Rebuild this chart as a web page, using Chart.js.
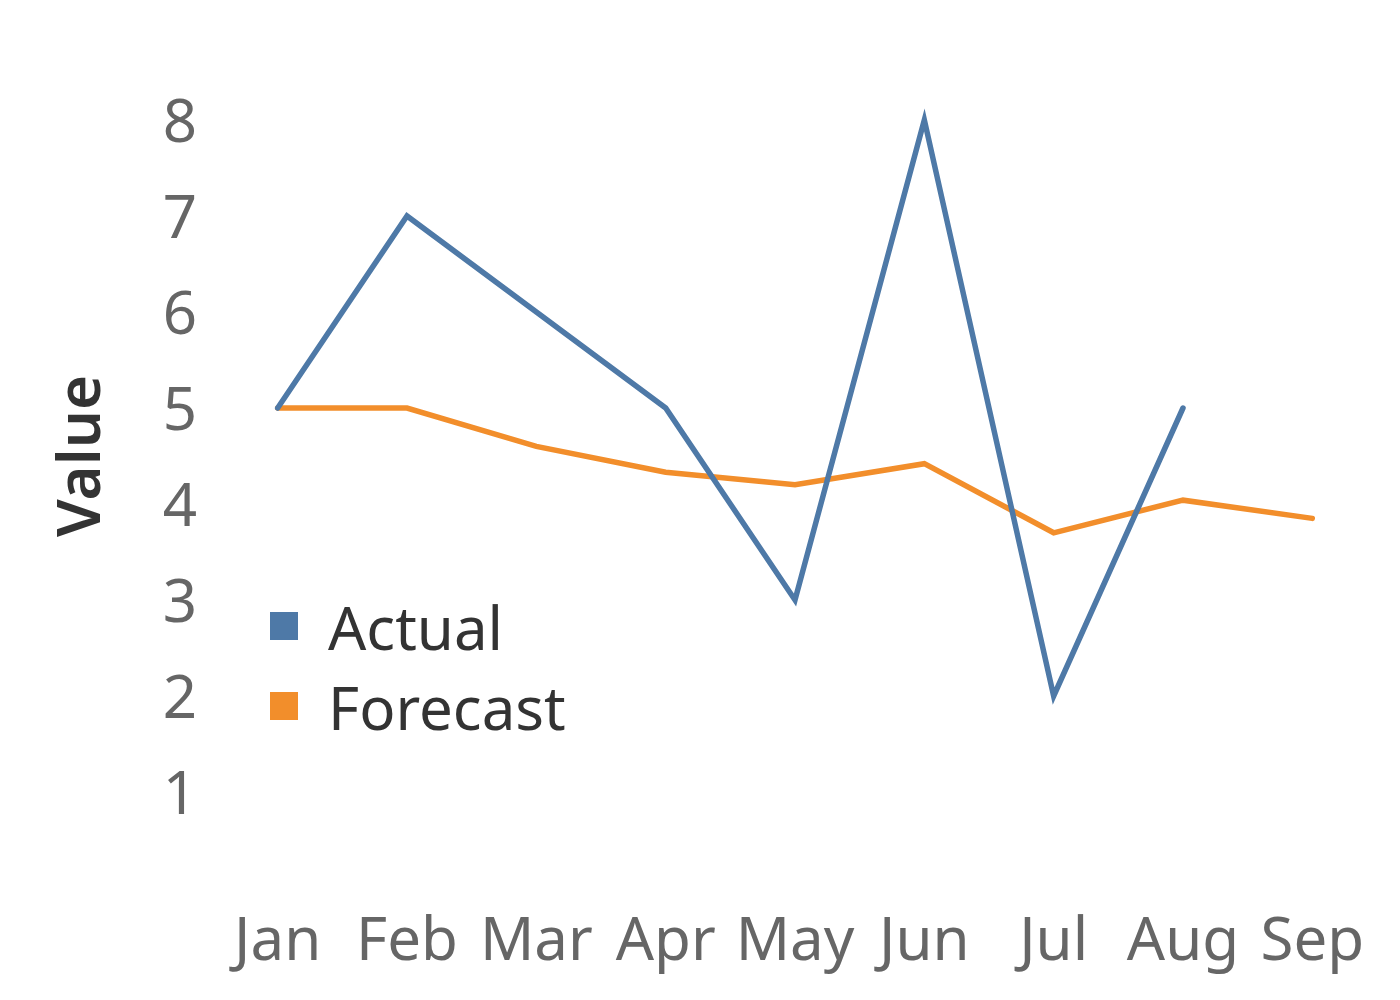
<!DOCTYPE html>
<html>
<head>
<meta charset="utf-8">
<script src="https://cdn.jsdelivr.net/npm/chart.js@4.4.0/dist/chart.umd.min.js"></script>
<style>
    html, body { margin: 0; padding: 0; background: #fff; }
    #wrap { width: 1400px; height: 1000px; }
</style>
</head>
<body>
<div id="wrap"><canvas id="chart" width="1400" height="1000"></canvas></div>
<script>
// Chart data
const months = ['Jan', 'Feb', 'Mar', 'Apr', 'May', 'Jun', 'Jul', 'Aug', 'Sep'];
const actualValues = [5, 7, 6, 5, 3, 8, 2, 5, null];
const forecastValues = [5, 5, 4.6, 4.33, 4.2, 4.42, 3.7, 4.04, 3.85];
const yTicks = [1, 2, 3, 4, 5, 6, 7, 8];

const FONT = '"Noto Sans", "Open Sans", sans-serif';

// Legend drawn inside the plot, lower left
const insideLegend = {
    id: 'insideLegend',
    afterDraw(chart) {
        const ctx = chart.ctx;
        ctx.save();
        ctx.font = '60px ' + FONT;
        ctx.textBaseline = 'alphabetic';
        ctx.textAlign = 'left';
        chart.data.datasets.forEach((ds, i) => {
            const top = 612 + i * 80;
            ctx.fillStyle = ds.borderColor;
            ctx.fillRect(270, top, 28, 28);
            ctx.fillStyle = '#333333';
            ctx.fillText(ds.label, 328, top + 38);
        });
        ctx.restore();
    }
};

new Chart(document.getElementById('chart').getContext('2d'), {
    type: 'line',
    data: {
        labels: months,
        datasets: [{
            label: 'Actual',
            data: actualValues,
            borderColor: '#4e79a7',
            backgroundColor: '#4e79a7',
            borderWidth: 5.5,
            pointRadius: 0,
            borderCapStyle: 'round',
            tension: 0
        }, {
            label: 'Forecast',
            data: forecastValues,
            borderColor: '#f28e2b',
            backgroundColor: '#f28e2b',
            borderWidth: 5.5,
            pointRadius: 0,
            borderCapStyle: 'round',
            tension: 0
        }]
    },
    options: {
        responsive: false,
        animation: false,
        layout: {
            padding: { left: 0, right: 23, top: 72, bottom: 0 }
        },
        scales: {
            x: {
                offset: true,
                grid: { display: false, drawTicks: false },
                border: { display: false },
                ticks: {
                    color: '#666666',
                    font: { family: FONT, size: 60 },
                    padding: 67,
                    maxRotation: 0,
                    autoSkip: false
                },
                afterFit(scale) {
                    // keep the big label padding from shrinking the plot sideways
                    scale.height = 160;
                    scale.paddingLeft = 0;
                    scale.paddingRight = 0;
                }
            },
            y: {
                min: 0.5,
                max: 8.5,
                afterBuildTicks(scale) {
                    scale.ticks = yTicks.map(v => ({ value: v }));
                },
                grid: { display: false, drawTicks: false },
                border: { display: false },
                ticks: {
                    color: '#666666',
                    font: { family: FONT, size: 60 },
                    padding: 16,
                    labelOffset: 5
                },
                title: {
                    display: true,
                    text: 'Value',
                    color: '#333333',
                    font: { family: FONT, size: 60, weight: '600' },
                    padding: { top: 47, bottom: 0 }
                },
                afterFit(scale) { scale.width = 213; }
            }
        },
        plugins: {
            legend: { display: false },
            tooltip: { enabled: false }
        }
    },
    plugins: [insideLegend]
});
</script>
</body>
</html>
